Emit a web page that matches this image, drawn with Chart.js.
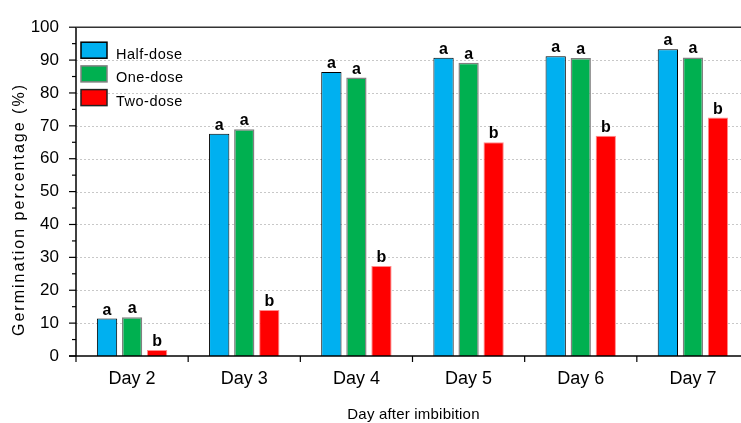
<!DOCTYPE html>
<html>
<head>
<meta charset="utf-8">
<script src="https://cdn.jsdelivr.net/npm/chart.js@4.4.0/dist/chart.umd.min.js"></script>
<style>
html,body{margin:0;padding:0;overflow:hidden;background:#fff;}
#wrap{width:741px;height:423px;overflow:hidden;position:relative;}
canvas{display:block;}
</style>
</head>
<body>
<div id="wrap"><canvas id="c" width="750" height="423" style="width:750px;height:423px"></canvas></div>
<script>
// ---- data ----
const categories = ['Day 2', 'Day 3', 'Day 4', 'Day 5', 'Day 6', 'Day 7'];
const seriesNames = ['Half-dose', 'One-dose', 'Two-dose'];
const halfDose = [11.4, 67.6, 86.4, 90.7, 91.2, 93.3];
const oneDose  = [11.8, 69.0, 84.7, 89.2, 90.6, 90.8];
const twoDose  = [1.8, 14.0, 27.4, 65.0, 67.0, 72.5];
const halfLetters = ['a', 'a', 'a', 'a', 'a', 'a'];
const oneLetters  = ['a', 'a', 'a', 'a', 'a', 'a'];
const twoLetters  = ['b', 'b', 'b', 'b', 'b', 'b'];
const yMin = 0, yMax = 100, yStep = 10, yMinorStep = 5;
const xTitle = 'Day after imbibition';
const yTitle = 'Germination percentage (%)';

const FONT = '"Liberation Sans", Arial, Helvetica, sans-serif';
const fills = ['#00B0F0', '#00B050', '#FF0000'];
const barBorders = ['#000000', '#808080', '#FF8C8C'];
const legendBorders = ['#000000', '#808080', '#222222'];
const letters = [halfLetters, oneLetters, twoLetters];

const decor = {
  id: 'decor',
  beforeDatasetsDraw(chart) {
    const {ctx, chartArea: ca, scales: {y}} = chart;
    ctx.save();
    ctx.strokeStyle = '#c8c8c8';
    ctx.lineWidth = 1;
    ctx.setLineDash([2, 2]);
    for (let v = yMin + yStep; v < yMax; v += yStep) {
      const py = Math.round(y.getPixelForValue(v)) + 0.5;
      ctx.beginPath();
      ctx.moveTo(ca.left, py);
      ctx.lineTo(ca.right, py);
      ctx.stroke();
    }
    ctx.restore();
  },
  afterDatasetsDraw(chart) {
    const {ctx, chartArea: ca, scales: {x, y}} = chart;
    ctx.save();
    // significance letters
    ctx.fillStyle = '#000';
    ctx.font = 'bold 16px ' + FONT;
    ctx.textAlign = 'center';
    ctx.textBaseline = 'alphabetic';
    chart.data.datasets.forEach((ds, di) => {
      const meta = chart.getDatasetMeta(di);
      meta.data.forEach((bar, i) => {
        ctx.fillText(letters[di][i], bar.x, bar.y - 4);
      });
    });
    // axes
    ctx.strokeStyle = '#000';
    ctx.lineWidth = 1.5;
    const y0 = y.getPixelForValue(yMin);
    const yT = y.getPixelForValue(yMax);
    ctx.beginPath();
    ctx.moveTo(ca.left, yT);
    ctx.lineTo(ca.left, y0);
    ctx.stroke();
    ctx.beginPath();
    ctx.moveTo(ca.left - 7, y0);
    ctx.lineTo(ca.right, y0);
    ctx.stroke();
    // top border
    ctx.strokeStyle = '#333';
    ctx.beginPath();
    ctx.moveTo(ca.left, yT);
    ctx.lineTo(ca.right, yT);
    ctx.stroke();
    // y ticks
    ctx.strokeStyle = '#000';
    ctx.lineWidth = 1.2;
    for (let v = yMin; v <= yMax; v += yMinorStep) {
      const py = y.getPixelForValue(v);
      const major = (v % yStep) === 0;
      ctx.beginPath();
      ctx.moveTo(ca.left - (major ? 7 : 4), py);
      ctx.lineTo(ca.left, py);
      ctx.stroke();
    }
    // x ticks at category boundaries
    const cw = (ca.right - ca.left) / categories.length;
    for (let i = 0; i <= categories.length; i++) {
      const px = (i < categories.length ? x.getPixelForValue(i) - cw / 2 : x.getPixelForValue(i - 1) + cw / 2);
      ctx.beginPath();
      ctx.moveTo(px, y0);
      ctx.lineTo(px, y0 + 6);
      ctx.stroke();
    }
    ctx.restore();
  },
  afterDraw(chart) {
    const {ctx, chartArea: ca} = chart;
    ctx.save();
    // legend
    seriesNames.forEach((name, i) => {
      const top = ca.top + 15 + i * 23.7;
      const left = ca.left + 5;
      ctx.fillStyle = fills[i];
      ctx.fillRect(left, top, 26, 16);
      ctx.strokeStyle = legendBorders[i];
      ctx.lineWidth = 1.5;
      ctx.strokeRect(left, top, 26, 16);
      ctx.fillStyle = '#000';
      ctx.font = '14.5px ' + FONT;
      ctx.textAlign = 'left';
      ctx.textBaseline = 'alphabetic';
      try { ctx.letterSpacing = '0.5px'; } catch (e) {}
      ctx.fillText(name, left + 35, top + 16.3);
      try { ctx.letterSpacing = '0px'; } catch (e) {}
    });
    // x title
    ctx.fillStyle = '#000';
    ctx.font = '15px ' + FONT;
    ctx.textAlign = 'center';
    ctx.textBaseline = 'alphabetic';
    try { ctx.letterSpacing = '0.2px'; } catch (e) {}
    ctx.fillText(xTitle, (ca.left + ca.right) / 2 + 1, 419);
    // y title
    ctx.font = '16px ' + FONT;
    try { ctx.letterSpacing = '2.0px'; } catch (e) {}
    ctx.translate(23.5, 209.5);
    ctx.rotate(-Math.PI / 2);
    ctx.fillText(yTitle, 0, 0);
    ctx.restore();
  }
};

const datasets = [halfDose, oneDose, twoDose].map((vals, i) => ({
  label: seriesNames[i],
  data: vals,
  backgroundColor: fills[i],
  borderColor: barBorders[i],
  borderWidth: i === 1 ? 1.5 : 1,
  borderSkipped: 'start',
  categoryPercentage: 0.67,
  barPercentage: 0.81
}));

new Chart(document.getElementById('c'), {
  type: 'bar',
  data: { labels: categories, datasets },
  options: {
    responsive: false,
    animation: false,
    layout: { padding: { top: 21, right: 1, left: 0, bottom: 0 } },
    plugins: { legend: { display: false }, tooltip: { enabled: false } },
    scales: {
      x: {
        grid: { display: false, drawTicks: false },
        border: { display: false },
        ticks: { color: '#000', font: { family: FONT, size: 18 }, padding: 12, maxRotation: 0 },
        afterFit(s) { s.height = 67; }
      },
      y: {
        min: yMin, max: yMax,
        grid: { display: false, drawTicks: false },
        border: { display: false },
        ticks: { stepSize: yStep, color: '#000', font: { family: FONT, size: 17 }, padding: 17 },
        afterFit(s) { s.width = 76; }
      }
    }
  },
  plugins: [decor]
});
</script>
</body>
</html>
